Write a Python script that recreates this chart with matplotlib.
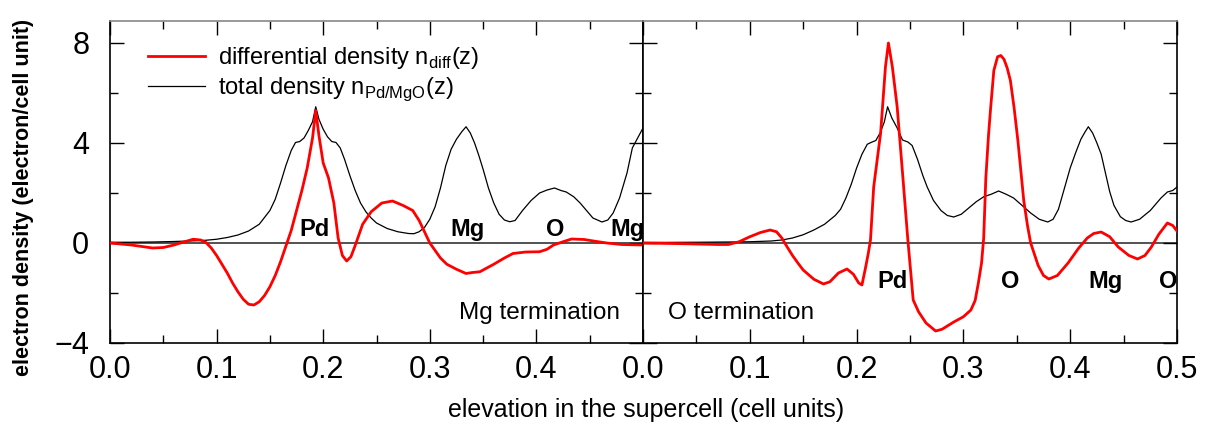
import matplotlib
matplotlib.use("Agg")
import matplotlib.pyplot as plt
from matplotlib.ticker import MultipleLocator, FixedLocator

plt.rcParams['font.family'] = ['Liberation Sans', 'DejaVu Sans']

# ---- Mg termination (left panel) ----
z_mg_tot = [0.0, 0.02, 0.04, 0.06, 0.08, 0.09, 0.10, 0.11, 0.12, 0.13, 0.14, 0.15, 0.155,
            0.16, 0.165, 0.17, 0.174, 0.178, 0.182, 0.186, 0.19, 0.193, 0.196, 0.20, 0.204,
            0.208, 0.212, 0.216, 0.22, 0.225, 0.23, 0.235, 0.24, 0.245, 0.25, 0.26, 0.27,
            0.28, 0.285, 0.29, 0.295, 0.30, 0.305, 0.31, 0.315, 0.32, 0.325, 0.33, 0.334,
            0.338, 0.342, 0.346, 0.35, 0.355, 0.36, 0.365, 0.37, 0.375, 0.38, 0.387,
            0.395, 0.403, 0.41, 0.417, 0.423, 0.428, 0.435, 0.441, 0.447, 0.453, 0.4615,
            0.467, 0.472, 0.478, 0.485, 0.49, 0.495, 0.50]
n_mg_tot = [0.03, 0.03, 0.04, 0.06, 0.09, 0.11, 0.15, 0.22, 0.32, 0.48, 0.75, 1.3, 1.75,
            2.4, 3.1, 3.7, 4.02, 4.06, 4.2, 4.5, 4.85, 5.45, 4.95, 4.55, 4.25,
            4.06, 4.02, 3.8, 3.35, 2.7, 2.1, 1.6, 1.25, 1.0, 0.8, 0.58, 0.45,
            0.38, 0.37, 0.45, 0.62, 0.95, 1.45, 2.2, 3.1, 3.75, 4.15, 4.45, 4.65,
            4.4, 4.0, 3.5, 2.95, 2.2, 1.6, 1.15, 0.92, 0.85, 0.9, 1.3,
            1.7, 2.0, 2.12, 2.2, 2.1, 2.04, 1.85, 1.6, 1.3, 1.0, 0.84,
            0.92, 1.2, 1.8, 2.8, 3.8, 4.2, 4.6]

z_mg_diff = [0.0, 0.02, 0.04, 0.05, 0.06, 0.07, 0.078, 0.085, 0.09, 0.095, 0.10, 0.105, 0.11,
             0.115, 0.12, 0.125, 0.13, 0.135, 0.14, 0.145, 0.15, 0.155, 0.16, 0.166, 0.17,
             0.175, 0.18, 0.185, 0.19, 0.193, 0.196, 0.20, 0.205, 0.21, 0.214, 0.218,
             0.222, 0.226, 0.23, 0.237, 0.245, 0.255, 0.265, 0.275, 0.284, 0.29, 0.30,
             0.31, 0.316, 0.325, 0.334, 0.34, 0.347, 0.36, 0.37, 0.378, 0.39, 0.403,
             0.41, 0.416, 0.425, 0.433, 0.445, 0.455, 0.466, 0.48, 0.50]
n_mg_diff = [0.0, -0.08, -0.2, -0.18, -0.08, 0.05, 0.15, 0.12, 0.02, -0.2, -0.5, -0.85, -1.2,
             -1.6, -1.95, -2.25, -2.45, -2.48, -2.35, -2.1, -1.75, -1.3, -0.75, 0.0, 0.5,
             1.3, 2.1, 3.0, 4.2, 5.3, 4.3, 3.2, 2.6, 1.6, 0.2, -0.5,
             -0.72, -0.55, -0.1, 0.75, 1.25, 1.6, 1.68, 1.5, 1.3, 0.9, 0.0,
             -0.6, -0.85, -1.05, -1.22, -1.18, -1.15, -0.85, -0.6, -0.42, -0.36, -0.35,
             -0.25, -0.08, 0.05, 0.16, 0.14, 0.07, 0.0, -0.06, -0.08]

# ---- O termination (right panel) ----
z_o_tot = [0.0, 0.05, 0.08, 0.10, 0.12, 0.13, 0.14, 0.15, 0.16, 0.17, 0.18, 0.185, 0.19,
           0.195, 0.20, 0.205, 0.21, 0.214, 0.218, 0.222, 0.226, 0.229, 0.233, 0.238, 0.243,
           0.248, 0.252, 0.257, 0.262, 0.266, 0.272, 0.279, 0.285, 0.291, 0.298, 0.305,
           0.312, 0.319, 0.326, 0.333, 0.34, 0.347, 0.355, 0.363, 0.371, 0.379, 0.384,
           0.389, 0.394, 0.40, 0.405, 0.41, 0.414, 0.417, 0.421, 0.425, 0.429, 0.433,
           0.437, 0.441, 0.447, 0.452, 0.457, 0.465, 0.475, 0.485, 0.491, 0.496, 0.50]
n_o_tot = [0.02, 0.03, 0.04, 0.05, 0.08, 0.12, 0.2, 0.33, 0.52, 0.75, 1.1, 1.35, 1.8,
           2.35, 3.0, 3.55, 3.95, 4.03, 4.1, 4.4, 4.85, 5.45, 5.0, 4.6, 4.12,
           4.04, 3.9, 3.35, 2.7, 2.25, 1.7, 1.3, 1.1, 1.04, 1.15, 1.4,
           1.65, 1.85, 1.95, 2.08, 1.95, 1.8, 1.5, 1.2, 0.95, 0.84, 0.95,
           1.35, 2.1, 3.0, 3.6, 4.15, 4.45, 4.65, 4.4, 4.0, 3.55, 2.8,
           2.05, 1.5, 1.05, 0.9, 0.84, 0.95, 1.3, 1.8, 2.04, 2.1, 2.24]

z_o_diff = [0.0, 0.04, 0.07, 0.08, 0.09, 0.10, 0.11, 0.119, 0.125, 0.13, 0.135, 0.14, 0.145,
            0.15, 0.16, 0.169, 0.175, 0.183, 0.191, 0.197, 0.202, 0.205, 0.2085, 0.211, 0.213,
            0.216, 0.2225, 0.227, 0.2298, 0.2335, 0.238, 0.243, 0.248, 0.253, 0.258, 0.265,
            0.274, 0.28, 0.291, 0.30, 0.307, 0.311, 0.314, 0.317, 0.319, 0.321, 0.3235,
            0.3255, 0.3285, 0.332, 0.335, 0.338, 0.341, 0.344, 0.3475, 0.351, 0.354, 0.3565,
            0.36, 0.363, 0.37, 0.375, 0.38, 0.388, 0.398, 0.408, 0.416, 0.422, 0.429,
            0.437, 0.445, 0.455, 0.463, 0.47, 0.476, 0.483, 0.491, 0.496, 0.50]
n_o_diff = [0.0, -0.03, -0.06, -0.06, 0.05, 0.25, 0.42, 0.52, 0.45, 0.2, -0.16, -0.5, -0.8,
            -1.08, -1.45, -1.64, -1.55, -1.2, -1.04, -1.25, -1.6, -1.68, -0.96, -0.4, 0.12,
            2.24, 4.4, 7.04, 8.0, 7.04, 5.44, 2.8, 0.12, -2.28, -2.75, -3.2,
            -3.52, -3.45, -3.16, -2.95, -2.68, -2.3, -1.6, -0.8, 0.2, 2.6, 4.3,
            5.4, 6.9, 7.45, 7.5, 7.35, 7.0, 6.5, 5.4, 4.1, 2.8, 1.7,
            0.7, 0.0, -0.9, -1.3, -1.44, -1.3, -0.8, -0.2, 0.2, 0.38, 0.44,
            0.25, -0.16, -0.5, -0.64, -0.5, -0.16, 0.35, 0.8, 0.7, 0.48]

mg_labels = [("Pd", 0.192), ("Mg", 0.335), ("O", 0.4175), ("Mg", 0.485)]
o_labels = [("Pd", 0.234), ("O", 0.344), ("Mg", 0.433), ("O", 0.4916)]

W, H = 1215, 432
fig = plt.figure(figsize=(W / 100, H / 100), dpi=100)
ax1 = fig.add_axes([110 / W, 89 / H, 533 / W, 322 / H])
ax2 = fig.add_axes([643 / W, 89 / H, 534 / W, 322 / H])

for ax in (ax1, ax2):
    ax.axhline(0, color='#444444', lw=1.3, zorder=1)
    ax.set_xlim(0, 0.5)
    ax.set_ylim(-4, 8.88)
    ax.xaxis.set_major_locator(MultipleLocator(0.1))
    ax.xaxis.set_minor_locator(MultipleLocator(0.05))
    ax.yaxis.set_major_locator(MultipleLocator(4))
    ax.yaxis.set_minor_locator(MultipleLocator(2))
    ax.tick_params(which='both', direction='in', top=True, right=True, width=1.0)
    ax.tick_params(which='major', length=10)
    ax.tick_params(which='minor', length=6)
    ax.tick_params(axis='x', labelsize=22, pad=9)
    ax.tick_params(axis='y', labelsize=22, pad=15)
    for s in ('left', 'right', 'bottom'):
        ax.spines[s].set_linewidth(1.2)
    ax.spines['top'].set_color('#888888')
    ax.spines['top'].set_linewidth(1.2)

l1, = ax1.plot(z_mg_diff, n_mg_diff, color='#ff0000', lw=2, zorder=3)
l2, = ax1.plot(z_mg_tot, n_mg_tot, color='black', lw=0.9, zorder=2)
ax2.plot(z_o_diff, n_o_diff, color='#ff0000', lw=2, zorder=3)
ax2.plot(z_o_tot, n_o_tot, color='black', lw=0.9, zorder=2)

ax1.xaxis.set_major_locator(FixedLocator([0.0, 0.1, 0.2, 0.3, 0.4]))
ax1.set_xticklabels(['0.0', '0.1', '0.2', '0.3', '0.4'])
ax1.set_yticks([-4, 0, 4, 8])
ax1.set_yticklabels(['\u22124', '0', '4', '8'])
ax2.set_yticks([-4, 0, 4, 8])
ax2.set_yticklabels([])
ax2.set_xticks([0.0, 0.1, 0.2, 0.3, 0.4, 0.5])
ax2.set_xticklabels(['0.0', '0.1', '0.2', '0.3', '0.4', '0.5'])

for name, z in mg_labels:
    ax1.text(z, 0.55, name, fontsize=17, fontweight='bold', ha='center', va='center', zorder=4)
for name, z in o_labels:
    ax2.text(z, -1.55, name, fontsize=17, fontweight='bold', ha='center', va='center', zorder=4)

ax1.text(0.957, 0.093, 'Mg termination', fontsize=17.6, ha='right', va='center',
         transform=ax1.transAxes)
ax2.text(0.047, 0.093, 'O termination', fontsize=17.6, ha='left', va='center',
         transform=ax2.transAxes)

ax1.legend([l1, l2], [r'differential density n$_{\mathregular{diff}}$(z)',
                      r'total density n$_{\mathregular{Pd/MgO}}$(z)'],
           loc='upper left', bbox_to_anchor=(0.054, 0.955), frameon=False,
           fontsize=17, handlelength=2.4, handletextpad=0.55, labelspacing=0.2,
           borderaxespad=0)

fig.text(24 / W, 1 - 197 / H, 'electron density (electron/cell unit)', rotation=90,
         fontsize=15.5, fontweight='bold', ha='center', va='center')
fig.text(646 / W, 1 - 410 / H, 'elevation in the supercell (cell units)',
         fontsize=18, ha='center', va='center')

fig.savefig('out.png', dpi=100)
